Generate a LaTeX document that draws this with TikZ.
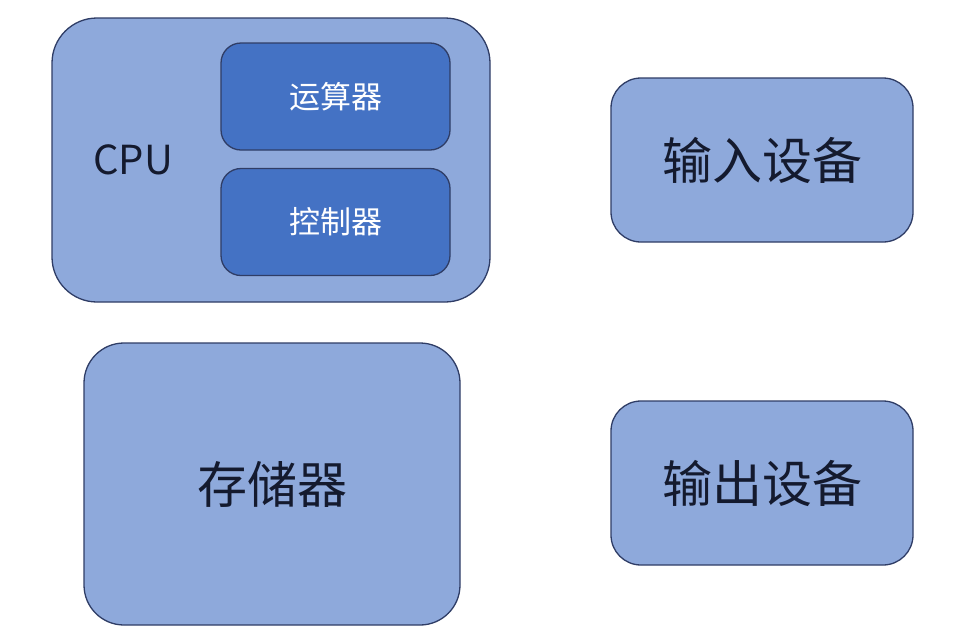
\documentclass[tikz,border=0pt]{standalone}
\usepackage{fontspec}
\setmainfont{Noto Sans CJK SC}
\definecolor{lightfill}{HTML}{8EA9DB}
\definecolor{darkfill}{HTML}{4472C4}
\definecolor{edge}{HTML}{2F3D66}
\definecolor{txt}{HTML}{141A2E}
\begin{document}
\begin{tikzpicture}[x=1pt,y=-1pt,
  outerbox/.style={draw=edge,line width=1.3pt,fill=lightfill,rounded corners=#1,inner sep=0pt},
  innerbox/.style={draw=edge,line width=1.3pt,fill=darkfill,rounded corners=20pt,minimum width=229pt,minimum height=107pt,inner sep=0pt,text=white,font=\fontsize{31}{36}\selectfont},
  bigtext/.style={text=txt,font=\fontsize{50}{58}\selectfont}]
\useasboundingbox[fill=white] (0,0) rectangle (957,643);
\node[outerbox=45pt,minimum width=438pt,minimum height=284pt] (cpu) at (271,160) {};
\node[text=txt,font=\fontsize{40}{46}\selectfont] (cpulabel) at (133,160) {CPU};
\node[innerbox] (alu) at (335.5,96.5) {运算器};
\node[innerbox] (cu) at (335.5,222) {控制器};
\node[outerbox=40pt,minimum width=376pt,minimum height=282pt,bigtext] (mem) at (272,484) {存储器};
\node[outerbox=30pt,minimum width=302pt,minimum height=164pt,bigtext] (in) at (762,160) {输入设备};
\node[outerbox=30pt,minimum width=302pt,minimum height=164pt,bigtext] (out) at (762,483) {输出设备};
\end{tikzpicture}
\end{document}
